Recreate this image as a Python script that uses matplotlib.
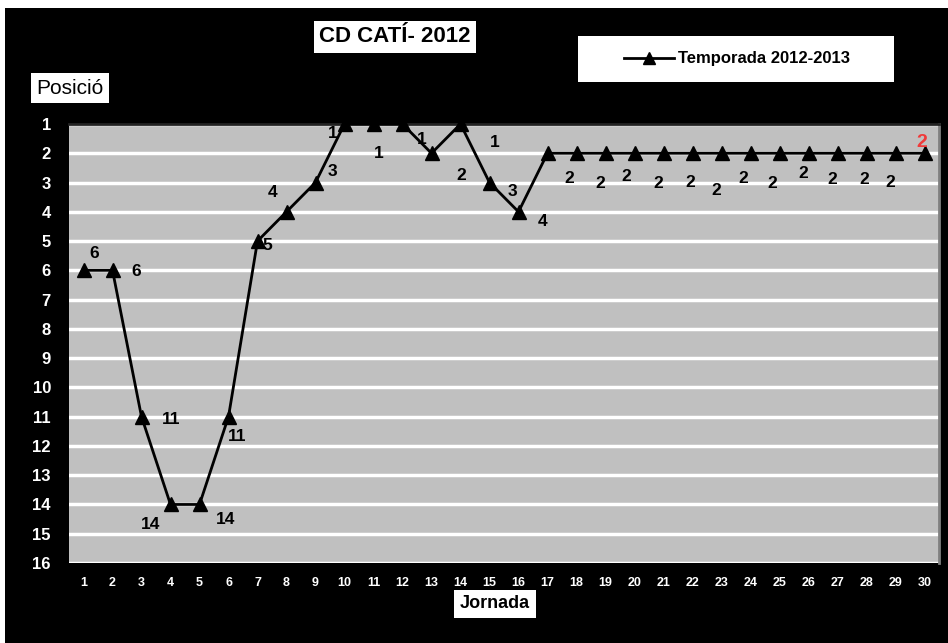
import numpy as np
import matplotlib.pyplot as plt
from matplotlib.patches import Rectangle

# Data
jornada = np.arange(1, 31)
posicio = [6, 6, 11, 14, 14, 11, 5, 4, 3, 1, 1, 1, 2, 1, 3, 4,
           2, 2, 2, 2, 2, 2, 2, 2, 2, 2, 2, 2, 2, 2]
ytick_vals = list(range(1, 17))

# label offsets (points) for each jornada, None = no label shown
offsets = [(8, 12), (17, -1), (21.5, -2), (-14.5, -14.5), (19, -11), (6.5, -14),
           (7, -3), (-10, 14), (12, 8), (-8.5, -7), (4, -21), (13.5, -11),
           (21.5, -16), (24.5, -13.5), (16.5, -6.5), (17, -7),
           None, (-5, -18), (-4, -21.5), (-6, -17), (-3.5, -21.5), (-1.5, -21),
           (-3.5, -26.5), (-5, -18), (-5, -21.5), (-4, -14.5), (-3.5, -19),
           (-1.5, -19), (-3.5, -21), (-2, 8)]

plt.rc('font', family=['Liberation Sans', 'DejaVu Sans'], weight='bold')

fig = plt.figure(figsize=(9.48, 6.43), dpi=100, facecolor='white')
W, H = 948, 643
fig.patches.append(Rectangle((5 / W, 0), 1, 1 - 8 / H, transform=fig.transFigure,
                             facecolor='black', edgecolor='none', zorder=-5))

ax = fig.add_axes([69 / W, 1 - 563 / H, (939 - 69) / W, (563 - 124) / H])
ax.set_zorder(2)
ax.set_facecolor('#c0c0c0')
ax.plot(jornada, posicio, color='black', lw=2, marker='^', markersize=10,
        clip_on=False, zorder=5, label='Temporada 2012-2013')

for x, y, off in zip(jornada, posicio, offsets):
    if off is None:
        continue
    col = '#f03a3a' if x == 30 else 'black'
    fs = 14 if x == 30 else 12.5
    ax.annotate(str(y), (x, y), xytext=off, textcoords='offset points',
                ha='center', va='center', fontsize=fs, color=col,
                fontweight='bold', zorder=6)

ax.set_ylim(16, 1)
ax.set_xlim(0.5, 30.5)
ax.set_yticks(ytick_vals)
ax.set_xticks(jornada)
ax.tick_params(axis='y', colors='white', length=0, pad=13, labelsize=12)
ax.tick_params(axis='x', colors='white', length=0, pad=10, labelsize=9)
for lbl in ax.get_xticklabels() + ax.get_yticklabels():
    lbl.set_fontweight('bold')
ax.yaxis.grid(True, color='white', lw=2.5)
ax.set_axisbelow(True)
for s in ['left', 'bottom']:
    ax.spines[s].set_visible(False)
ax.spines['top'].set_color('#222222')
ax.spines['top'].set_linewidth(2)
ax.spines['right'].set_color('#808080')
ax.spines['right'].set_linewidth(2)

# title, axis titles in white boxes
box = dict(facecolor='white', edgecolor='none', pad=4)
fig.text(395 / W, 1 - 37 / H, 'CD CATÍ- 2012', ha='center', va='center',
         fontsize=16, fontweight='bold', color='black', bbox=box)
fig.text(70 / W, 1 - 88 / H, 'Posició', ha='center', va='center',
         fontsize=15, fontweight='normal', color='black', bbox=box)
fig.text(495 / W, 1 - 604 / H, 'Jornada', ha='center', va='center',
         fontsize=13, fontweight='bold', color='black', bbox=box)

# legend in a white rectangle
fig.patches.append(Rectangle((578 / W, 1 - 82 / H), (894 - 578) / W, 46 / H,
                             transform=fig.transFigure, facecolor='white',
                             edgecolor='none', zorder=1))
leg = fig.legend(loc='center', bbox_to_anchor=(737 / W, 1 - 59 / H), frameon=False,
                 fontsize=12, handlelength=3, markerscale=0.8, handletextpad=0.2)
leg.set_zorder(3)

fig.savefig('out.png', dpi=100, facecolor=fig.get_facecolor())
